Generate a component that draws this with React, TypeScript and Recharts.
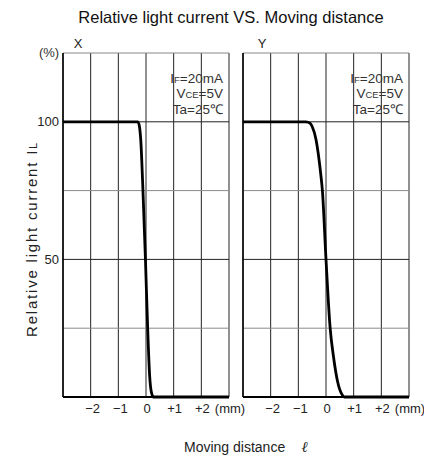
import { LineChart, Line, XAxis, YAxis, CartesianGrid, ReferenceLine } from "recharts";

// X direction curve (moving distance mm, relative light current %)
const xDist = [-3, -0.3, -0.25, -0.19, -0.11, -0.02, 0.06, 0.13, 0.2, 0.27, 3];
const xCurrent = [100, 100, 99, 93.5, 75, 50, 25, 8, 1.5, 0, 0];

// Y direction curve
const yDist = [-3, -0.72, -0.58, -0.5, -0.36, -0.19, -0.13, 0, 0.15, 0.27, 0.41, 0.59, 0.66, 3];
const yCurrent = [100, 100, 99.5, 98.3, 93.5, 81, 75, 50, 25, 14.7, 6, 0.7, 0, 0];

const xTicks = [-2, -1, 0, 1, 2, 3];
const xTickLabels = ["\u22122", "\u22121", "0", "+1", "+2", "(mm)"];
const yTicks = [50, 100];
const blackGrid = [50, 100];
const grayGrid = [25, 75];

const FONT = "'Liberation Sans', Arial, Helvetica, sans-serif";

const toRows = (xs: number[], ys: number[]) => xs.map((x, i) => ({ x, v: ys[i] }));

function XTick(props: any) {
  const { x, y, payload } = props;
  const i = xTicks.indexOf(payload.value);
  const dx = payload.value < 0 ? 2 : 1;
  return (
    <text x={x + dx} y={y + 8} textAnchor="middle" fontSize={13} fill="#222" fontFamily={FONT}>
      {xTickLabels[i]}
    </text>
  );
}

function Panel({ rows, left, showY }: { rows: { x: number; v: number }[]; left: number; showY: boolean }) {
  return (
    <div style={{ position: "absolute", left: 0, top: 0 }}>
      <LineChart
        width={424}
        height={456}
        data={rows}
        margin={{ top: 53, right: 424 - left - 166, bottom: 29, left: left - 50 }}
      >
        <CartesianGrid vertical horizontal={false} stroke="#222" strokeWidth={1} />
        <XAxis
          dataKey="x"
          type="number"
          domain={[-3, 3]}
          ticks={xTicks}
          tick={<XTick />}
          tickLine={false}
          axisLine={{ stroke: "#000", strokeWidth: 2 }}
          height={30}
          interval={0}
        />
        <YAxis
          type="number"
          domain={[0, 125]}
          ticks={yTicks}
          width={50}
          tickLine={false}
          tickSize={0}
          tickMargin={4}
          axisLine={{ stroke: "#000", strokeWidth: 1.5 }}
          tick={showY ? { fontSize: 13, fill: "#222", fontFamily: FONT } : false}
        />
        {grayGrid.map((g) => (
          <ReferenceLine key={g} y={g} stroke="#8a8a8a" strokeWidth={1} />
        ))}
        {blackGrid.map((g) => (
          <ReferenceLine key={g} y={g} stroke="#222" strokeWidth={1} />
        ))}
        <ReferenceLine y={125} stroke="#888" strokeWidth={1} />
        <Line
          dataKey="v"
          type="monotone"
          stroke="#000"
          strokeWidth={2.8}
          dot={false}
          isAnimationActive={false}
        />
      </LineChart>
    </div>
  );
}

function Conditions({ right }: { right: number }) {
  return (
    <g fontSize={13.5} fill="#333" fontFamily={FONT} textAnchor="end">
      <text x={right} y={83}>
        I<tspan fontSize={9.5}>F</tspan>=20mA
      </text>
      <text x={right} y={98}>
        V<tspan fontSize={9.5}>CE</tspan>=5V
      </text>
      <text x={right} y={114}>
        Ta=25℃
      </text>
    </g>
  );
}

export default function App() {
  return (
    <div style={{ position: "absolute", left: 0, top: 0, width: 424, height: 456, background: "#fff", fontFamily: FONT }}>
      <Panel rows={toRows(xDist, xCurrent)} left={63} showY />
      <Panel rows={toRows(yDist, yCurrent)} left={243} showY={false} />
      <svg width={424} height={456} style={{ position: "absolute", left: 0, top: 0, pointerEvents: "none" }}>
        <text x={231} y={23} textAnchor="middle" fontSize={16.5} fill="#111" fontFamily={FONT}>
          Relative light current VS. Moving distance
        </text>
        <text x={78} y={48} textAnchor="middle" fontSize={13} fill="#222" fontFamily={FONT}>X</text>
        <text x={262} y={48} textAnchor="middle" fontSize={13} fill="#222" fontFamily={FONT}>Y</text>
        <text x={49} y={57} textAnchor="middle" fontSize={13} fill="#333" fontFamily={FONT}>(%)</text>
        <Conditions right={223} />
        <Conditions right={403} />
        <text
          transform="translate(37,240) rotate(-90)"
          textAnchor="middle"
          fontSize={15}
          fill="#222"
          fontFamily={FONT}
          textLength={194}
          lengthAdjust="spacing"
        >
          Relative light current  I<tspan fontSize={10.5}>L</tspan>
        </text>
        <text x={184} y={452} fontSize={14} fill="#222" fontFamily={FONT}>
          Moving distance
        </text>
        <text x={305} y={452} textAnchor="middle" fontSize={15} fontStyle="italic" fontWeight="bold" fill="#222" fontFamily="'DejaVu Serif', serif">
          ℓ
        </text>
      </svg>
    </div>
  );
}
